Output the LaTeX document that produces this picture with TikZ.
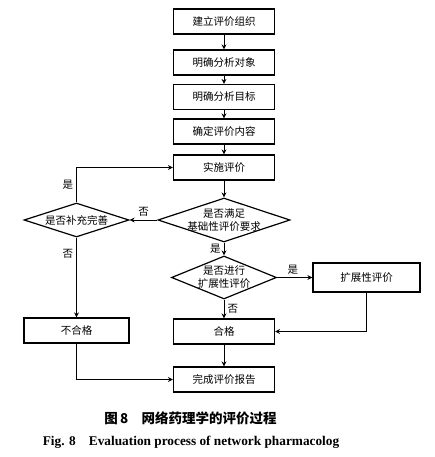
\documentclass[tikz,border=0pt]{standalone}
\usepackage{fontspec}
\setmainfont{Liberation Serif}
\newfontfamily\cjk{Noto Sans CJK SC}
\usetikzlibrary{arrows.meta,shapes.geometric}

\begin{document}
\begin{tikzpicture}[x=1pt, y=-1pt,
    every node/.style = {font=\cjk\fontsize{10.5}{13}\selectfont, align=center},
    box/.style = {draw, line width=1.2pt, minimum width=101pt, minimum height=25pt, inner sep=0pt},
    decision/.style = {draw, line width=1.2pt, diamond, inner sep=-4pt},
    flow/.style = {line width=1pt, -{Stealth[length=5pt, width=5pt]}},
    tag/.style = {font=\cjk\fontsize{10.5}{13}\selectfont, inner sep=3pt}]
  \useasboundingbox (0,0) rectangle (434,457);
  % main column
  \node[box] (org)    at (224,21.5) {建立评价组织};
  \node[box] (obj)    at (224,62.5) {明确分析对象};
  \node[box] (aim)    at (224,97)   {明确分析目标};
  \node[box] (cont)   at (224,131.5){确定评价内容};
  \node[box] (run)    at (224,167.5){实施评价};
  \node[decision, aspect=3, minimum width=132pt, minimum height=44pt] (basic) at (224,220) {是否满足\\基础性评价要求};
  \node[decision, aspect=3.1, minimum width=105pt, minimum height=34pt] (supp)  at (76.5,220) {是否补充完善};
  \node[decision, aspect=2.45, minimum width=105pt, minimum height=43pt] (ext)   at (224,277.5) {是否进行\\扩展性评价};
  \node[box, minimum width=107pt, minimum height=29pt] (extbox) at (366.5,277.5) {扩展性评价};
  \node[box, minimum width=105pt] (fail) at (76.5,330.5) {不合格};
  \node[box] (pass)   at (224,331.5){合格};
  \node[box] (report) at (224,379.5){完成评价报告};
  % captions
  \node[font=\cjk\bfseries\fontsize{13.5}{16}\selectfont] (cap) at (190.5,418) {图\,8\quad 网络药理学的评价过程};
  \node[font=\bfseries\fontsize{13.3}{16}\selectfont] (capen) at (191,442) {Fig. 8\quad Evaluation process of network pharmacolog};
  % connectors
  \draw[flow] (org) -- (obj);
  \draw[flow] (obj) -- (aim);
  \draw[flow] (aim) -- (cont);
  \draw[flow] (cont) -- (run);
  \draw[flow] (run) -- (basic);
  \draw[flow] (basic) -- node[tag, above] {否} (supp);
  \draw[flow] (supp.north) -- node[tag, left] {是} (supp.north |- run) -- (run.west);
  \draw[flow] (supp) -- node[tag, left, pos=0.2] {否} (fail);
  \draw[flow] (basic) -- node[tag, left] {是} (ext);
  \draw[flow] (ext) -- node[tag, above, pos=0.45] {是} (extbox);
  \draw[flow] (ext) -- node[tag, right] {否} (pass);
  \draw[flow] (extbox.south) |- (pass.east);
  \draw[flow] (pass) -- (report);
  \draw[flow] (fail.south) |- (report.west);
\end{tikzpicture}
\end{document}
